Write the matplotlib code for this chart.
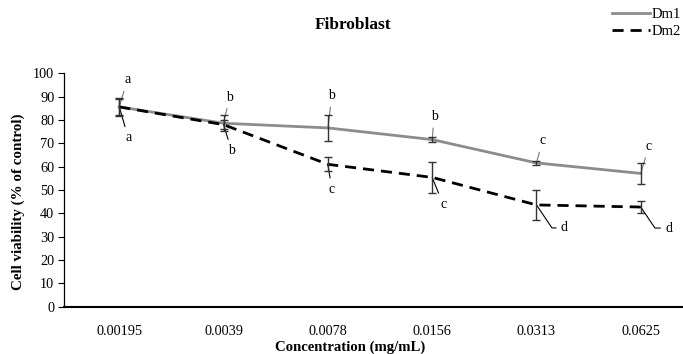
import matplotlib
matplotlib.use("Agg")
import matplotlib.pyplot as plt

plt.rcParams['font.family'] = ['Liberation Serif', 'DejaVu Serif']

concentrations = ['0.00195', '0.0039', '0.0078', '0.0156', '0.0313', '0.0625']
dm1_mean = [85.6, 78.6, 76.6, 71.6, 61.6, 57.1]
dm1_err = [3.9, 3.5, 5.5, 1.2, 0.7, 4.5]
dm2_mean = [85.6, 78.0, 61.0, 55.4, 43.6, 42.7]
dm2_err = [3.5, 2.0, 3.0, 6.6, 6.3, 2.5]
dm1_letters = ['a', 'b', 'b', 'b', 'c', 'c']
dm2_letters = ['a', 'b', 'c', 'c', 'd', 'd']

# label offsets in pixels (dx, dy) relative to the point
DM1_OFFSETS = [(8, 27), (6, 26), (4, 32), (2, 23), (6, 22), (8, 27)]
DM2_OFFSETS = [(9, -31), (8, -26), (4, -25), (11, -27), (28, -23), (28, -21)]
ELBOW = [False, False, False, False, True, True]


def main():
    fig = plt.figure(figsize=(6.83, 3.54), dpi=100)
    ax = fig.add_axes([64 / 683, 1 - 306.7 / 354, (683 - 64) / 683, (306.7 - 73.3) / 354])
    x = list(range(len(concentrations)))

    ax.plot(x, dm1_mean, color='#8c8c8c', lw=2, label='Dm1', zorder=3)
    ax.plot(x, dm2_mean, color='black', lw=2, ls=(0, (4, 2.5)), label='Dm2', zorder=3)
    ax.errorbar(x, dm1_mean, yerr=dm1_err, fmt='none', ecolor='#333333',
                elinewidth=1, capsize=3, capthick=1, zorder=4)
    ax.errorbar(x, dm2_mean, yerr=dm2_err, fmt='none', ecolor='#333333',
                elinewidth=1, capsize=3, capthick=1, zorder=4)

    for i in x:
        dx, dy = DM1_OFFSETS[i]
        ax.annotate(dm1_letters[i], xy=(i, dm1_mean[i]), xytext=(dx, dy),
                    textcoords='offset pixels', ha='center', va='center', fontsize=10,
                    arrowprops=dict(arrowstyle='-', color='#777777', lw=0.8, shrinkA=1.5, shrinkB=0))
        dx, dy = DM2_OFFSETS[i]
        props = dict(arrowstyle='-', color='black', lw=0.8, shrinkA=1.5, shrinkB=0)
        if ELBOW[i]:
            props['connectionstyle'] = 'angle,angleA=0,angleB=-56,rad=0'
        ax.annotate(dm2_letters[i], xy=(i, dm2_mean[i]), xytext=(dx, dy),
                    textcoords='offset pixels', ha='center', va='center', fontsize=10,
                    arrowprops=props)

    ax.set_xlim(-0.53, 5.405)
    ax.set_ylim(0, 100)
    ax.set_yticks(range(0, 101, 10))
    ax.set_xticks(x)
    ax.set_xticklabels(concentrations)
    ax.tick_params(axis='x', length=0, pad=13, labelsize=10.3)
    ax.tick_params(axis='y', length=4, width=0.8, labelsize=10.3, pad=3)
    ax.spines['top'].set_visible(False)
    ax.spines['right'].set_visible(False)
    ax.spines['bottom'].set_linewidth(1.5)
    ax.spines['left'].set_linewidth(0.9)

    ax.set_xlabel('Concentration (mg/mL)', fontweight='bold', fontsize=10.6)
    ax.xaxis.set_label_coords((350 - 64) / 619, -(347 - 306.7) / 233.4)
    ax.xaxis.label.set_va('center')
    ax.set_ylabel('Cell viability (% of control)', fontweight='bold', fontsize=10.8)
    ax.yaxis.set_label_coords(-(64 - 18) / 619, (306.7 - 202) / 233.4)
    ax.yaxis.label.set_va('center')
    fig.text(353 / 683, 1 - 25 / 354, 'Fibroblast', ha='center', va='center',
             fontweight='bold', fontsize=12.5)

    fig.legend(loc='upper left', bbox_to_anchor=(606 / 683, 1 - 2 / 354), frameon=False,
               fontsize=10.5, handlelength=2.6, handletextpad=0.1, labelspacing=0.25,
               borderaxespad=0)

    fig.savefig('out.png', dpi=100)


if __name__ == '__main__':
    main()
